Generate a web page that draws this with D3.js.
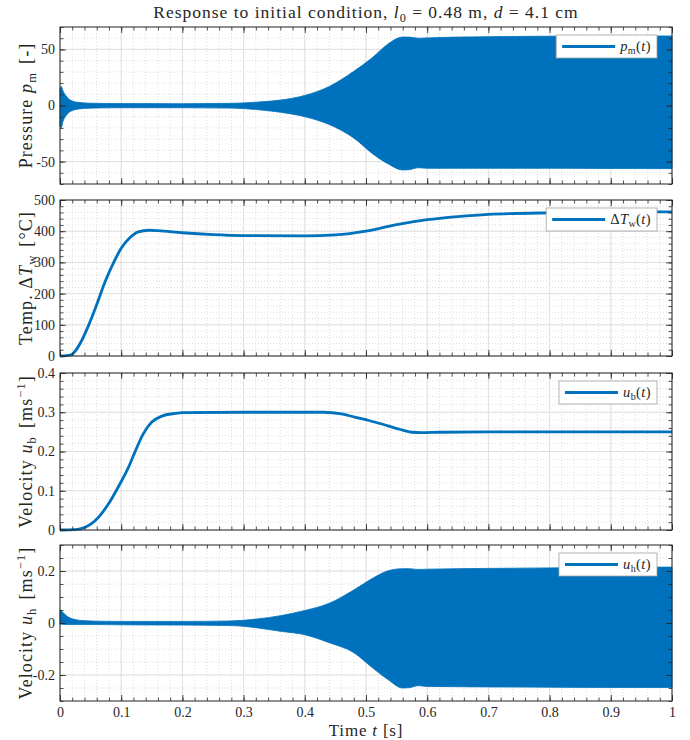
<!DOCTYPE html>
<html>
<head>
<meta charset="utf-8">
<script src="https://cdn.jsdelivr.net/npm/d3@7"></script>
<style>
    body { margin: 0; background: #fff; }
    text { font-family: "Liberation Serif", "Times New Roman", serif; fill: #262626; }
</style>
</head>
<body>
<svg id="chart" width="690" height="740"></svg>
<script>
// envelope of the fast oscillating signals (p_m and u_h)
const envTime = [0, 0.002, 0.005, 0.01, 0.015, 0.02, 0.03, 0.04, 0.06, 0.1, 0.2, 0.28, 0.32, 0.36, 0.4, 0.44, 0.48, 0.51, 0.535, 0.56, 0.57, 0.585, 0.6, 0.65, 0.7, 0.8, 0.9, 1.0];
const pUpper = [15, 17, 13, 8.5, 5.5, 4, 2.8, 2.3, 1.9, 1.7, 1.6, 1.9, 3, 4.8, 9, 17, 30.5, 42.5, 54.5, 61, 61, 60, 60.3, 61, 61.4, 61.8, 62, 62];
const pLower = [-18, -20, -14, -9, -6, -4.5, -3.2, -2.6, -2.2, -2, -2, -2.3, -3.6, -6, -10, -17, -29, -42.7, -51.7, -57.5, -57.3, -55.5, -56, -56, -56, -56, -56.2, -56.3];
const uhUpper = [0.05, 0.048, 0.04, 0.029, 0.021, 0.016, 0.011, 0.009, 0.007, 0.006, 0.006, 0.008, 0.015, 0.028, 0.048, 0.076, 0.127, 0.171, 0.2, 0.209, 0.209, 0.206, 0.207, 0.209, 0.21, 0.212, 0.214, 0.215];
const uhLower = [-0.004, -0.005, -0.005, -0.006, -0.006, -0.006, -0.006, -0.006, -0.006, -0.007, -0.008, -0.01, -0.018, -0.032, -0.045, -0.076, -0.114, -0.171, -0.216, -0.25, -0.249, -0.241, -0.244, -0.245, -0.246, -0.247, -0.248, -0.248];

// wall temperature rise
const tempTime = [0, 0.01, 0.02, 0.025, 0.035, 0.046, 0.06, 0.0735, 0.087, 0.1, 0.114, 0.128, 0.145, 0.16, 0.2, 0.25, 0.3, 0.4, 0.45, 0.5, 0.55, 0.6, 0.65, 0.7, 0.8, 0.9, 1.0];
const tempW = [0, 1, 6, 16, 48, 95, 165, 237, 297, 345, 379, 398, 403, 402, 395, 389, 386, 385, 388, 400, 421, 437, 447, 454, 459, 461, 462];

// bulk velocity
const ubTime = [0, 0.025, 0.041, 0.052, 0.0626, 0.079, 0.095, 0.112, 0.1225, 0.136, 0.15, 0.166, 0.188, 0.2, 0.3, 0.43, 0.46, 0.483, 0.505, 0.526, 0.556, 0.575, 0.59, 0.62, 0.7, 0.8, 1.0];
const ub = [0, 0.001, 0.007, 0.017, 0.032, 0.066, 0.109, 0.16, 0.199, 0.245, 0.275, 0.29, 0.297, 0.299, 0.3, 0.3, 0.296, 0.287, 0.279, 0.27, 0.256, 0.249, 0.248, 0.249, 0.25, 0.25, 0.25];

// tick labels
const xTicks = [0, 0.1, 0.2, 0.3, 0.4, 0.5, 0.6, 0.7, 0.8, 0.9, 1];
const pTicks = [-50, 0, 50];
const tempTicks = [0, 100, 200, 300, 400, 500];
const ubTicks = [0, 0.1, 0.2, 0.3, 0.4];
const uhTicks = [-0.2, 0, 0.2];

const blue = "#0072BD";
const axisColor = "#262626";
const svg = d3.select("#chart");
const left = 60, right = 672;

const x = d3.scaleLinear().domain([0, 1]).range([left, right]);

// writes text with italic / sub / sup pieces, optional third item is an extra gap before the piece
function richText(sel, parts, size, spacing = 0) {
    const t = sel.append("text").attr("font-size", size).attr("letter-spacing", spacing);
    let shift = 0;
    parts.forEach(([str, kind, gap]) => {
        const ts = t.append("tspan").text(str);
        let target = 0;
        if (kind === "i") ts.attr("font-style", "italic");
        if (kind === "sub") { target = size * 0.2; ts.attr("font-size", size * 0.7); }
        if (kind === "sup") { target = -size * 0.38; ts.attr("font-size", size * 0.7); }
        if (target - shift !== 0) ts.attr("dy", target - shift);
        if (gap) ts.attr("dx", gap);
        shift = target;
    });
    return t;
}

class Panel {
    constructor(top, bottom, domain, ticks, minorStep) {
        this.top = top;
        this.bottom = bottom;
        this.g = svg.append("g");
        this.y = d3.scaleLinear().domain(domain).range([bottom, top]);
        this.ticks = ticks;
        this.minor = d3.range(domain[0], domain[1] + minorStep / 2, minorStep);
        this.xMinor = d3.range(0, 1.001, 0.02);
    }

    grid() {
        const g = this.g.append("g");
        g.selectAll(".mx").data(this.xMinor).join("line")
            .attr("x1", d => x(d)).attr("x2", d => x(d))
            .attr("y1", this.top).attr("y2", this.bottom)
            .attr("stroke", "#c8c8c8").attr("stroke-width", 0.6).attr("stroke-dasharray", "1,2");
        g.selectAll(".my").data(this.minor).join("line")
            .attr("x1", left).attr("x2", right)
            .attr("y1", d => this.y(d)).attr("y2", d => this.y(d))
            .attr("stroke", "#c8c8c8").attr("stroke-width", 0.6).attr("stroke-dasharray", "1,2");
        g.selectAll(".gx").data(xTicks).join("line")
            .attr("x1", d => x(d)).attr("x2", d => x(d))
            .attr("y1", this.top).attr("y2", this.bottom)
            .attr("stroke", "#e0e0e0").attr("stroke-width", 1);
        g.selectAll(".gy").data(this.ticks).join("line")
            .attr("x1", left).attr("x2", right)
            .attr("y1", d => this.y(d)).attr("y2", d => this.y(d))
            .attr("stroke", "#e0e0e0").attr("stroke-width", 1);
    }

    axes(showX) {
        const h = this.bottom - this.top, w = right - left;
        const style = a => {
            a.select(".domain").remove();
            a.selectAll("line").attr("stroke", axisColor).attr("stroke-width", 0.8);
            a.selectAll("text").attr("font-size", 14).attr("font-family", null).attr("fill", axisColor);
        };
        const fmt = d => String(d).replace("−", "-");
        // minor ticks on all sides
        this.g.append("g").attr("transform", `translate(${left},0)`)
            .call(d3.axisLeft(this.y).tickValues(this.minor).tickSize(-3.5).tickFormat("")).call(style);
        this.g.append("g").attr("transform", `translate(${right},0)`)
            .call(d3.axisRight(this.y).tickValues(this.minor).tickSize(-3.5).tickFormat("")).call(style);
        this.g.append("g").attr("transform", `translate(0,${this.bottom})`)
            .call(d3.axisBottom(x).tickValues(this.xMinor).tickSize(-3.5).tickFormat("")).call(style);
        this.g.append("g").attr("transform", `translate(0,${this.top})`)
            .call(d3.axisTop(x).tickValues(this.xMinor).tickSize(-3.5).tickFormat("")).call(style);
        // major ticks
        this.g.append("g").attr("transform", `translate(${left},0)`)
            .call(d3.axisLeft(this.y).tickValues(this.ticks).tickSize(-6).tickPadding(5).tickFormat(fmt)).call(style);
        this.g.append("g").attr("transform", `translate(${right},0)`)
            .call(d3.axisRight(this.y).tickValues(this.ticks).tickSize(-6).tickFormat("")).call(style);
        this.g.append("g").attr("transform", `translate(0,${this.bottom})`)
            .call(d3.axisBottom(x).tickValues(xTicks).tickSize(-6).tickPadding(6).tickFormat(showX ? fmt : "")).call(style);
        this.g.append("g").attr("transform", `translate(0,${this.top})`)
            .call(d3.axisTop(x).tickValues(xTicks).tickSize(-6).tickFormat("")).call(style);
        this.g.append("rect")
            .attr("x", left).attr("y", this.top).attr("width", w).attr("height", h)
            .attr("fill", "none").attr("stroke", axisColor).attr("stroke-width", 1);
    }

    band(times, upper, lower) {
        const data = times.map((t, i) => [t, upper[i], lower[i]]);
        this.g.append("path")
            .datum(data)
            .attr("d", d3.area().curve(d3.curveMonotoneX)
                .x(d => x(d[0])).y0(d => this.y(d[2])).y1(d => this.y(d[1])))
            .attr("fill", blue).attr("stroke", blue).attr("stroke-width", 0.8);
    }

    line(times, values) {
        this.g.append("path")
            .datum(times.map((t, i) => [t, values[i]]))
            .attr("d", d3.line().curve(d3.curveMonotoneX).x(d => x(d[0])).y(d => this.y(d[1])))
            .attr("fill", "none").attr("stroke", blue).attr("stroke-width", 2.8);
    }

    ylabel(parts) {
        const cy = (this.top + this.bottom) / 2;
        richText(this.g.append("g").attr("transform", `translate(32,${cy}) rotate(-90)`), parts, 18, 1.1)
            .attr("text-anchor", "middle");
    }

    legend(parts) {
        const lg = this.g.append("g");
        const box = lg.append("rect");
        const txt = richText(lg, parts, 14.5, 0.4);
        const tw = txt.node().getComputedTextLength();
        const bw = 6 + 53 + 5 + tw + 6, bh = 23;
        const bx = right - 15 - bw, by = this.top + 8;
        box.attr("x", bx).attr("y", by).attr("width", bw).attr("height", bh)
            .attr("fill", "#fff").attr("stroke", "#a0a0a0").attr("stroke-width", 0.8);
        lg.append("line")
            .attr("x1", bx + 6).attr("x2", bx + 59).attr("y1", by + bh / 2).attr("y2", by + bh / 2)
            .attr("stroke", blue).attr("stroke-width", 2.8);
        txt.attr("x", bx + 64).attr("y", by + 16);
    }
}

const p1 = new Panel(27, 184, [-70, 70], pTicks, 10);
p1.grid();
p1.band(envTime, pUpper, pLower);
p1.axes(false);
p1.ylabel([["Pressure ", "r"], ["p", "i"], ["m", "sub"], ["[-]", "r", 8]]);
p1.legend([["p", "i"], ["m", "sub"], ["(", "r"], ["t", "i"], [")", "r"]]);

const p2 = new Panel(200, 356, [0, 500], tempTicks, 20);
p2.grid();
p2.line(tempTime, tempW);
p2.axes(false);
p2.ylabel([["Temp. \u0394", "r"], ["T", "i"], ["w", "sub"], ["[\u00b0C]", "r", 8]]);
p2.legend([["\u0394", "r"], ["T", "i"], ["w", "sub"], ["(", "r"], ["t", "i"], [")", "r"]]);

const p3 = new Panel(373, 530, [0, 0.4], ubTicks, 0.02);
p3.grid();
p3.line(ubTime, ub);
p3.axes(false);
p3.ylabel([["Velocity ", "r"], ["u", "i"], ["b", "sub"], ["[ms", "r", 8], ["\u22121", "sup"], ["]", "r"]]);
p3.legend([["u", "i"], ["b", "sub"], ["(", "r"], ["t", "i"], [")", "r"]]);

const p4 = new Panel(545, 701, [-0.3, 0.3], uhTicks, 0.05);
p4.grid();
p4.band(envTime, uhUpper, uhLower);
p4.axes(true);
p4.ylabel([["Velocity ", "r"], ["u", "i"], ["h", "sub"], ["[ms", "r", 8], ["\u22121", "sup"], ["]", "r"]]);
p4.legend([["u", "i"], ["h", "sub"], ["(", "r"], ["t", "i"], [")", "r"]]);

// title and x label
richText(svg.append("g").attr("transform", `translate(${(left + right) / 2},18)`),
    [["Response to initial condition, ", "r"], ["l", "i"], ["0", "sub"], [" = 0.48 m, ", "r"], ["d", "i"], [" = 4.1 cm", "r"]], 17.5, 1)
    .attr("text-anchor", "middle");
richText(svg.append("g").attr("transform", `translate(${(left + right) / 2},736)`),
    [["Time ", "r"], ["t", "i"], [" [s]", "r"]], 17, 0.8)
    .attr("text-anchor", "middle");
</script>
</body>
</html>
